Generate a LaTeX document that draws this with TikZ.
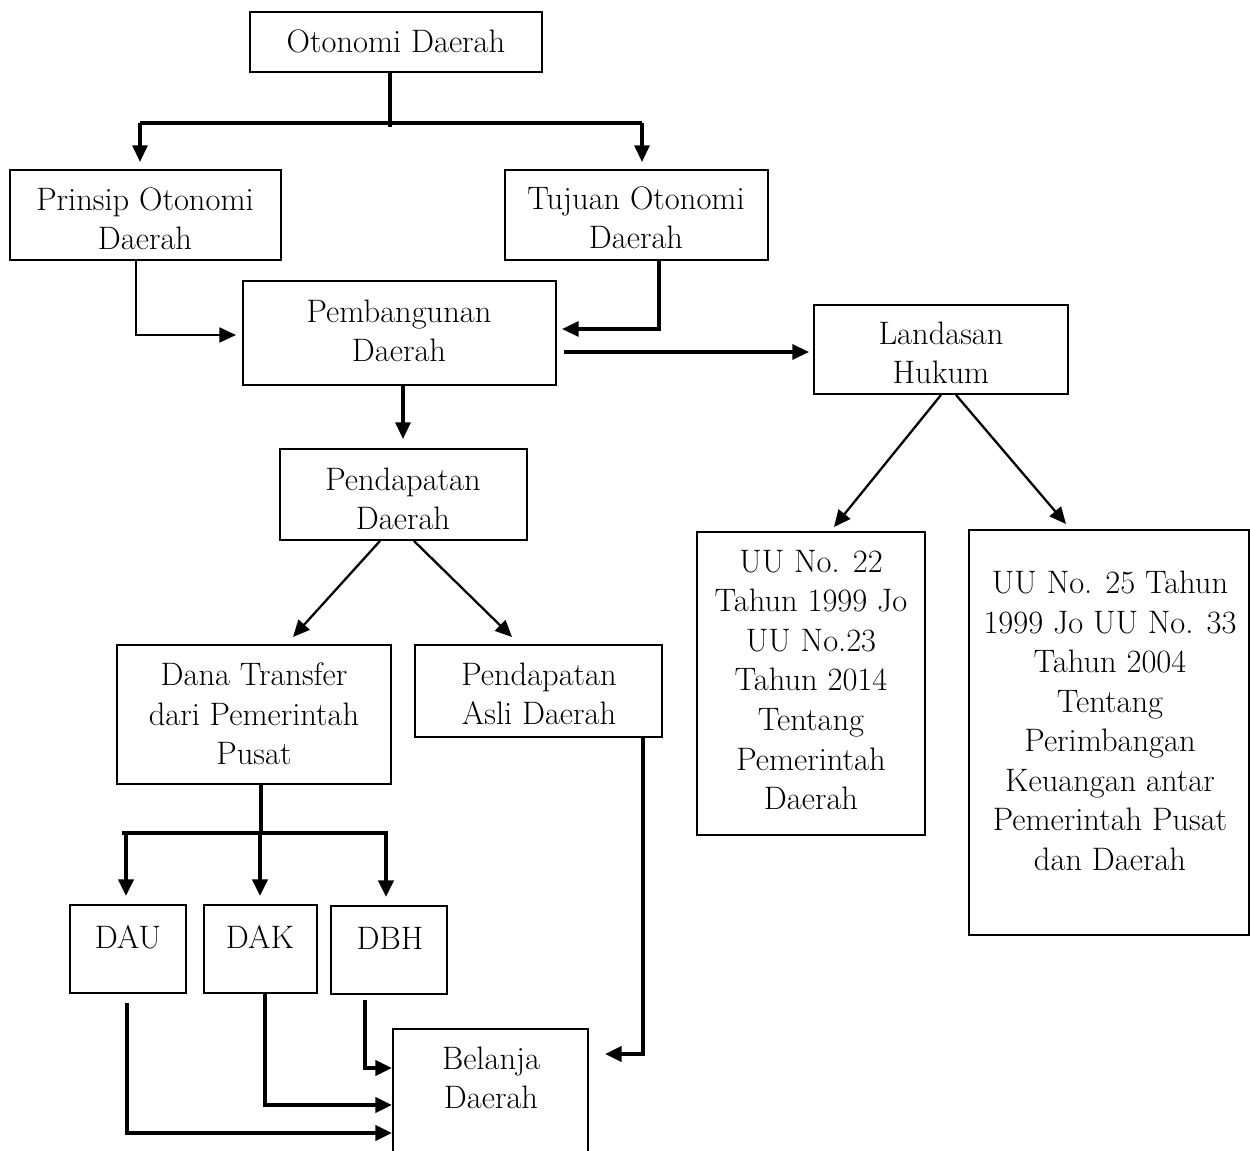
\documentclass[tikz,border=0pt]{standalone}
\usepackage{fontspec}
\usetikzlibrary{arrows.meta,fit}
\begin{document}
\begin{tikzpicture}[x=0.02cm,y=-0.02cm,
  bx/.style={draw, line width=1.1pt, inner sep=0pt},
  txt/.style={align=center, inner sep=0pt, font=\fontsize{18.5}{22.5}\selectfont},
  tip/.style={-{Triangle[length=9.5pt,width=8.5pt]}},
  lnA/.style={line width=1.3pt},
  lnB/.style={line width=1.8pt},
  lnC/.style={line width=2.4pt}]
\useasboundingbox (0,0) rectangle (1250,1151);
% boxes
\node[bx, fit={(250,12) (542,72)}] (oto) {};
\node[bx, fit={(10,170) (281,260)}] (prin) {};
\node[bx, fit={(505,170) (768,260)}] (tuj) {};
\node[bx, fit={(243,281) (556,385)}] (pemb) {};
\node[bx, fit={(814,305) (1068,394)}] (land) {};
\node[bx, fit={(280,449) (527,540)}] (pend) {};
\node[bx, fit={(117,645) (391,784)}] (dana) {};
\node[bx, fit={(415,645) (662,737)}] (pad) {};
\node[bx, fit={(70,905) (186,993)}] (dau) {};
\node[bx, fit={(204,905) (317,993)}] (dak) {};
\node[bx, fit={(331,906) (447,994)}] (dbh) {};
\node[bx, fit={(393,1029) (588,1160)}] (bel) {};
\node[bx, fit={(697,532) (925,835)}] (uua) {};
\node[bx, fit={(969,530) (1249,935)}] (uub) {};
% texts
\node[txt] (oto-t) at (396,41) {Otonomi Daerah};
\node[txt] (prin-t) at (145,219) {Prinsip Otonomi\\Daerah};
\node[txt] (tuj-t) at (636,218) {Tujuan Otonomi\\Daerah};
\node[txt] (pemb-t) at (399,331) {Pembangunan\\Daerah};
\node[txt] (land-t) at (941,353) {Landasan\\Hukum};
\node[txt] (pend-t) at (403,499) {Pendapatan\\Daerah};
\node[txt] (dana-t) at (254,714) {Dana Transfer\\dari Pemerintah\\Pusat};
\node[txt] (pad-t) at (539,694) {Pendapatan\\Asli Daerah};
\node[txt] (dau-t) at (128,937) {DAU};
\node[txt] (dak-t) at (260,937) {DAK};
\node[txt] (dbh-t) at (390,938) {DBH};
\node[txt] (bel-t) at (491,1078) {Belanja\\Daerah};
\node[txt] (uua-t) at (811,680) {UU No. 22\\Tahun 1999 Jo\\UU No.23\\Tahun 2014\\Tentang\\Pemerintah\\Daerah};
\node[txt] (uub-t) at (1110,721) {UU No. 25 Tahun\\1999 Jo UU No. 33\\Tahun 2004\\Tentang\\Perimbangan\\Keuangan antar\\Pemerintah Pusat\\dan Daerah};
% junction coordinates
\coordinate (j0) at (390,127);
\coordinate (hl) at (140,123);
\coordinate (hr) at (642,123);
\coordinate (c1) at (136,335);
\coordinate (c2) at (659,329);
\coordinate (c3) at (563,352);
\coordinate (c4) at (403,440);
\coordinate (d1s) at (380,540);
\coordinate (d1e) at (293,637);
\coordinate (d2s) at (414,540);
\coordinate (d2e) at (512,637);
\coordinate (c5) at (261,833);
\coordinate (gl) at (122,833);
\coordinate (gr) at (388,833);
\coordinate (g1) at (126,833);
\coordinate (g2) at (260,833);
\coordinate (g3) at (386,833);
\coordinate (c6) at (127,1133);
\coordinate (c7) at (265,1105);
\coordinate (c8) at (365,1068);
\coordinate (c9) at (643,1054);
\coordinate (l1s) at (941,394);
\coordinate (l1e) at (834,527);
\coordinate (l2s) at (956,394);
\coordinate (l2e) at (1066,524);
% connectors
\draw[lnC] (j0 |- oto.south) -- (j0);
\draw[lnC] (hl) -- (hr);
\draw[lnB,tip,shorten >=0.14cm] (hl) -- (hl |- prin.north);
\draw[lnB,tip,shorten >=0.14cm] (hr) -- (hr |- tuj.north);
\draw[lnA,tip,shorten >=0.12cm] (c1 |- prin.south) -- (c1) -- (c1 -| pemb.west);
\draw[lnB,tip,shorten >=0.1cm] (c2 |- tuj.south) -- (c2) -- (c2 -| pemb.east);
\draw[lnB,tip,shorten <=0.14cm,shorten >=0.08cm] (c3 -| pemb.east) -- (c3 -| land.west);
\draw[lnB,tip,shorten >=0.18cm] (c4 |- pemb.south) -- (c4 |- pend.north);
\draw[lnA,tip] (d1s |- pend.south) -- (d1e);
\draw[lnA,tip] (d2s |- pend.south) -- (d2e);
\draw[lnC] (c5 |- dana.south) -- (c5);
\draw[lnC] (gl) -- (gr);
\draw[lnC,tip,shorten >=0.16cm] (g1) -- (g1 |- dau.north);
\draw[lnC,tip,shorten >=0.16cm] (g2) -- (g2 |- dak.north);
\draw[lnC,tip,shorten >=0.16cm] (g3) -- (g3 |- dbh.north);
\draw[lnC,tip,shorten <=0.18cm] (c6 |- dau.south) -- (c6) -- (c6 -| bel.west);
\draw[lnC,tip] (c7 |- dak.south) -- (c7) -- (c7 -| bel.west);
\draw[lnC,tip,shorten <=0.1cm] (c8 |- dbh.south) -- (c8) -- (c8 -| bel.west);
\draw[lnC,tip,shorten >=0.32cm] (c9 |- pad.south) -- (c9) -- (c9 -| bel.east);
\draw[lnA,tip] (l1s |- land.south) -- (l1e);
\draw[lnA,tip] (l2s |- land.south) -- (l2e);
\end{tikzpicture}
\end{document}
